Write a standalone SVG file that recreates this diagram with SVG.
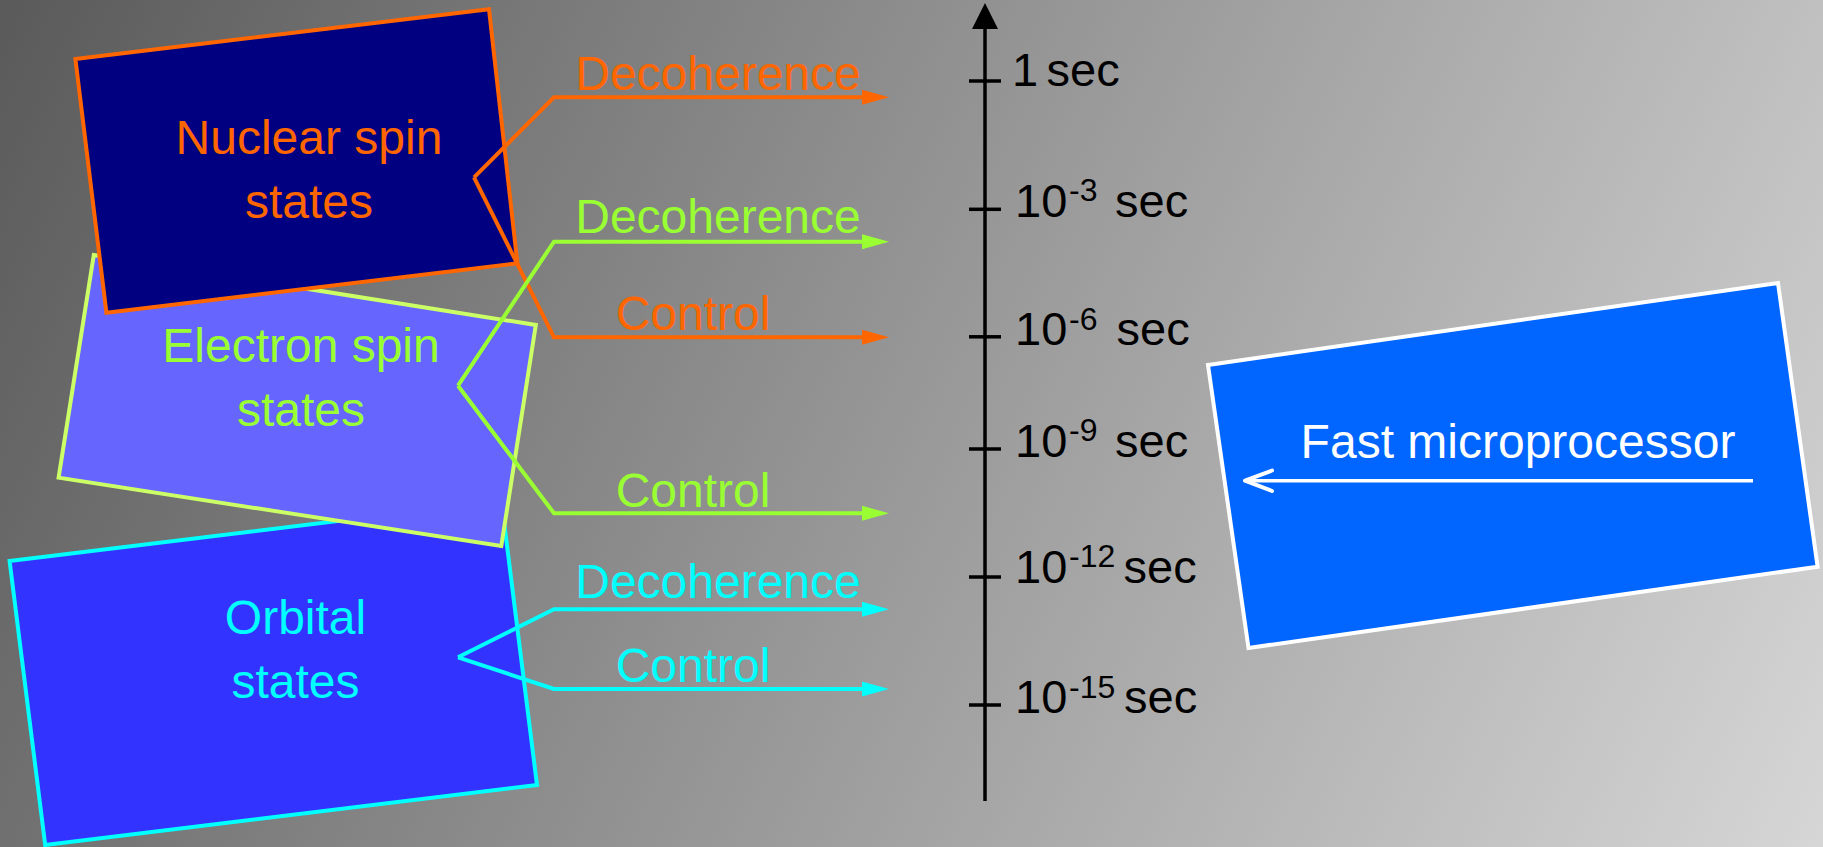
<svg xmlns="http://www.w3.org/2000/svg" width="1823" height="847" viewBox="0 0 1823 847">
  <defs>
    <linearGradient id="bg" gradientUnits="userSpaceOnUse" x1="0" y1="0" x2="1823" y2="847">
      <stop offset="0" stop-color="#5a5a5a"/>
      <stop offset="1" stop-color="#d6d6d6"/>
    </linearGradient>
    <marker id="ah-orange" markerUnits="userSpaceOnUse" markerWidth="27" markerHeight="16" refX="0" refY="8" orient="auto" overflow="visible">
      <path d="M0,0.5 L27,8 L0,15.5 z" fill="#FF6600"/>
    </marker>
    <marker id="ah-green" markerUnits="userSpaceOnUse" markerWidth="27" markerHeight="16" refX="0" refY="8" orient="auto" overflow="visible">
      <path d="M0,0.5 L27,8 L0,15.5 z" fill="#99FF33"/>
    </marker>
    <marker id="ah-cyan" markerUnits="userSpaceOnUse" markerWidth="27" markerHeight="16" refX="0" refY="8" orient="auto" overflow="visible">
      <path d="M0,0.5 L27,8 L0,15.5 z" fill="#00FFFF"/>
    </marker>
  </defs>
  <style>
    text { font-family: "Liberation Sans", Arial, sans-serif; font-size: 48px; }
    .box { stroke-width: 4; stroke-linejoin: miter; }
    .lbl { text-anchor: middle; }
    .conn { fill: none; stroke-width: 4; stroke-linejoin: miter; }
    .orange { stroke: #FF6600; }
    .green { stroke: #99FF33; }
    .cyan { stroke: #00FFFF; }
    .t-orange { fill: #FF6600; }
    .t-green { fill: #99FF33; }
    .t-cyan { fill: #00FFFF; }
    .axis-text { fill: #000000; font-size: 47px; }
    .sup { font-size: 32px; }
    .tick { stroke: #000000; stroke-width: 3.5; }
  </style>

  <rect x="0" y="0" width="1823" height="847" fill="url(#bg)"/>

  <g id="orbital-states">
    <polygon class="box" points="9.6,561 501.4,501 537,785 45.2,845" fill="#3333FF" stroke="#00FFFF"/>
    <text class="lbl t-cyan" x="295.5" y="634">Orbital</text>
    <text class="lbl t-cyan" x="295.5" y="698">states</text>
  </g>

  <g id="electron-spin-states">
    <polygon class="box" points="93.8,255 535.8,325 501.3,546 58.6,477.7" fill="#6666FF" stroke="#CCFF66"/>
    <text class="lbl t-green" x="301" y="361.7">Electron spin</text>
    <text class="lbl t-green" x="301" y="425.7">states</text>
  </g>

  <g id="nuclear-spin-states">
    <polygon class="box" points="75.4,59 489,9.3 517.4,263.3 106.4,312.7" fill="#000080" stroke="#FF6600"/>
    <text class="lbl t-orange" x="309" y="154">Nuclear spin</text>
    <text class="lbl t-orange" x="309" y="218">states</text>
  </g>

  <g id="fast-microprocessor">
    <polygon class="box" points="1208,365 1778,283 1817.6,566.7 1248.5,648" fill="#0066FF" stroke="#FFFFFF" stroke-width="3.5"/>
    <text class="lbl" x="1518" y="458" fill="#FFFFFF">Fast microprocessor</text>
    <line x1="1753" y1="480.7" x2="1245" y2="480.7" stroke="#FFFFFF" stroke-width="3.5"/>
    <polyline points="1272,470.5 1245,480.7 1272,491" fill="none" stroke="#FFFFFF" stroke-width="4" stroke-linecap="round" stroke-linejoin="round"/>
  </g>

  <g id="time-axis">
    <line x1="985" y1="26" x2="985" y2="801" stroke="#000000" stroke-width="3.5"/>
    <polygon points="985,3 972,29 998,29" fill="#000000"/>
    <line class="tick" x1="969" y1="81" x2="1001" y2="81"/>
    <line class="tick" x1="969" y1="209.3" x2="1001" y2="209.3"/>
    <line class="tick" x1="969" y1="336.8" x2="1001" y2="336.8"/>
    <line class="tick" x1="969" y1="449" x2="1001" y2="449"/>
    <line class="tick" x1="969" y1="577" x2="1001" y2="577"/>
    <line class="tick" x1="969" y1="705" x2="1001" y2="705"/>
    <text class="axis-text" x="1012" y="86">1<tspan x="1046.5">sec</tspan></text>
    <text class="axis-text" x="1015" y="216.7">10<tspan class="sup" x="1069" y="200.5">-3</tspan><tspan x="1115" y="216.7">sec</tspan></text>
    <text class="axis-text" x="1015" y="345">10<tspan class="sup" x="1069" y="329.5">-6</tspan><tspan x="1116.5" y="345">sec</tspan></text>
    <text class="axis-text" x="1015" y="456.7">10<tspan class="sup" x="1069" y="441">-9</tspan><tspan x="1115" y="456.7">sec</tspan></text>
    <text class="axis-text" x="1015" y="582.7">10<tspan class="sup" x="1069" y="567">-12</tspan><tspan x="1123.5" y="582.7">sec</tspan></text>
    <text class="axis-text" x="1015" y="713.3">10<tspan class="sup" x="1069" y="697.5">-15</tspan><tspan x="1124" y="713.3">sec</tspan></text>
  </g>

  <g id="connectors">
    <polyline class="conn orange" points="474,177.3 554,97.3 862,97.3" marker-end="url(#ah-orange)"/>
    <polyline class="conn orange" points="474,177.3 554,337.3 862,337.3" marker-end="url(#ah-orange)"/>
    <polyline class="conn green" points="458,385.7 554,241.7 862,241.7" marker-end="url(#ah-green)"/>
    <polyline class="conn green" points="458,385.7 554,513.3 862,513.3" marker-end="url(#ah-green)"/>
    <polyline class="conn cyan" points="458,657.3 554,609.3 862,609.3" marker-end="url(#ah-cyan)"/>
    <polyline class="conn cyan" points="458,657.3 554,689 862,689" marker-end="url(#ah-cyan)"/>
    <text class="lbl t-orange" x="718" y="90">Decoherence</text>
    <text class="lbl t-orange" x="693" y="330">Control</text>
    <text class="lbl t-green" x="718" y="233.3">Decoherence</text>
    <text class="lbl t-green" x="693" y="506.7">Control</text>
    <text class="lbl t-cyan" x="718" y="598.3">Decoherence</text>
    <text class="lbl t-cyan" x="693" y="681.7">Control</text>
  </g>
</svg>
